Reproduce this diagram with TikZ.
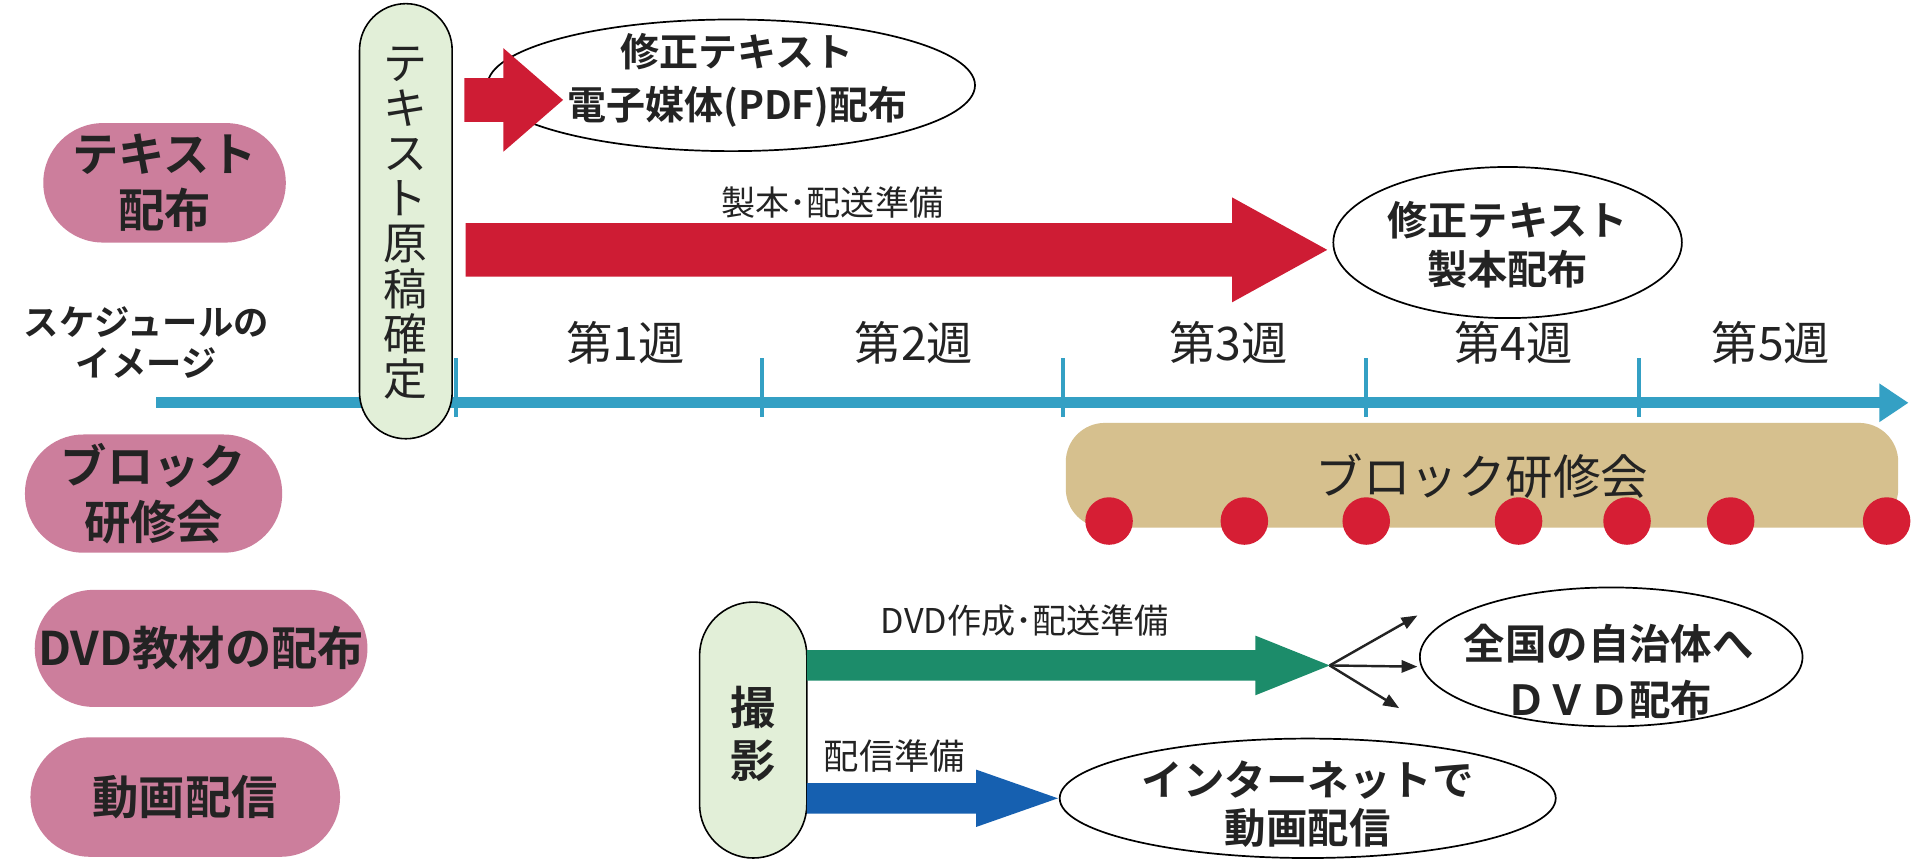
\documentclass[tikz,border=0pt]{standalone}
\usepackage{fontspec}
\setmainfont{Noto Sans CJK JP}[BoldFont={Noto Sans CJK JP Bold}]
\usetikzlibrary{calc,arrows.meta,shapes.geometric}
\definecolor{pinkc}{RGB}{204,126,156}
\definecolor{vgreen}{RGB}{226,239,216}
\definecolor{tanc}{RGB}{214,192,142}
\definecolor{tlc}{RGB}{52,160,196}
\definecolor{redc}{RGB}{206,28,52}
\definecolor{dotred}{RGB}{214,30,52}
\definecolor{greenc}{RGB}{28,140,106}
\definecolor{bluec}{RGB}{22,96,176}
\definecolor{ink}{RGB}{35,35,35}
\newcommand\fsz[2]{\fontsize{#1}{#2}\selectfont}
\newcommand\blockarr[6]{\fill[#1] let \p1=(#2),\p2=(#3) in
  (\x1,\y2+#4pt) -- (\x2-#6pt,\y2+#4pt) -- (\x2-#6pt,\y2+#5pt) -- (\x2,\y2)
  -- (\x2-#6pt,\y2-#5pt) -- (\x2-#6pt,\y2-#4pt) -- (\x1,\y2-#4pt) -- cycle;}
\begin{document}
\begin{tikzpicture}[x=1pt,y=-1pt,
  leftpill/.style={rectangle, fill=pinkc, inner sep=0pt, align=center, text=ink, font=\fsz{38}{46}\bfseries},
  vpill/.style={rectangle, draw=black, line width=1.3pt, fill=vgreen, inner sep=0pt},
  oval/.style={ellipse, draw=black, line width=1.4pt, fill=white, inner sep=0pt},
  ovaltext/.style={align=center, text=ink, inner sep=0pt},
  wk/.style={text=ink, font=\fsz{38}{40}, inner sep=0pt},
  lbl/.style={text=ink, font=\fsz{28}{30}, inner sep=0pt},
  dot/.style={circle, fill=dotred, minimum size=39pt, inner sep=0pt},
  thinarr/.style={line width=2pt, draw=ink, -{Triangle[length=13pt,width=10pt]}},
  tick/.style={tlc, line width=3pt}
]
\useasboundingbox[fill=white] (0,0) rectangle (1568,705);

% timeline
\coordinate (t0) at (128,330.5);
\coordinate (t1) at (1566,330.5);
\draw[tlc, line width=9pt, -{Triangle[length=24pt,width=30pt]}] (t0) -- (t1);
\foreach \k/\x in {a/374,b/625,c/872,d/1121,e/1345}{
  \coordinate (tk\k1) at (\x,294);
  \coordinate (tk\k2) at (\x,342);
  \draw[tick] (tk\k1) -- (tk\k2);
}
\node[wk] (w1) at (513,281) {第1週};
\node[wk] (w2) at (750,281) {第2週};
\node[wk] (w3) at (1008,281) {第3週};
\node[wk] (w4) at (1242,281) {第4週};
\node[wk] (w5) at (1453,281) {第5週};

% left labels
\node[leftpill, minimum width=199pt, minimum height=98pt, rounded corners=49pt] (p1) at (135,150) {テキスト\\配布};
\node[leftpill, minimum width=211pt, minimum height=97pt, rounded corners=48pt] (p2) at (126,405) {ブロック\\研修会};
\node[leftpill, minimum width=273pt, minimum height=96pt, rounded corners=48pt] (p3) at (165,532) {DVD教材の配布};
\node[leftpill, minimum width=254pt, minimum height=98pt, rounded corners=49pt] (p4) at (152,654) {動画配信};
\node[font=\fsz{29}{34}\bfseries, align=center, text=ink, inner sep=0pt] (sch) at (120,281) {スケジュールの\\イメージ};

% text manuscript fixed
\node[vpill, minimum width=76pt, minimum height=357pt, rounded corners=38pt] (vp) at (333,181.5) {};
\node[font=\fsz{36}{37}, align=center, text=ink, inner sep=0pt] (vpt) at (333,183) {テ\\キ\\ス\\ト\\原\\稿\\確\\定};

% PDF distribution
\node[oval, minimum width=400pt, minimum height=108pt] (e1) at (600,70) {};
\coordinate (r1s) at (381,82);
\coordinate (r1e) at (462,82);
\blockarr{redc}{r1s}{r1e}{18}{42.5}{49}
\node[ovaltext, font=\fsz{32}{43}\bfseries] (e1t) at (605,66) {修正テキスト\\電子媒体(PDF)配布};

% bound copy
\node[lbl] (l1) at (683,166) {製本･配送準備};
\coordinate (r2s) at (382,205);
\coordinate (r2e) at (1089,205);
\blockarr{redc}{r2s}{r2e}{22}{43}{78}
\node[oval, minimum width=286pt, minimum height=124pt] (e2) at (1237,199) {};
\node[ovaltext, font=\fsz{33}{40}\bfseries] (e2t) at (1237,201) {修正テキスト\\製本配布};

% block seminars
\node[fill=tanc, rounded corners=32pt, minimum width=683pt, minimum height=86pt, inner sep=0pt] (tan) at (1216,390) {};
\node[font=\fsz{39}{40}, text=ink, inner sep=0pt] (bk) at (1216,391) {ブロック研修会};
\foreach \k/\x in {1/910,2/1021,3/1121,4/1246,5/1335,6/1420,7/1548}{
  \node[dot] (d\k) at (\x,427.5) {};
}

% filming
\node[vpill, minimum width=88pt, minimum height=210pt, rounded corners=44pt] (sp) at (618,599) {};
\node[font=\fsz{37}{44}\bfseries, align=center, text=ink, inner sep=0pt] (spt) at (618,602) {撮\\影};

% DVD
\node[lbl] (l2) at (841,509) {DVD作成･配送準備};
\coordinate (gs) at (662,546);
\coordinate (gt) at (1091,546);
\blockarr{greenc}{gs}{gt}{12.5}{24.5}{61}
\node[oval, minimum width=314pt, minimum height=114pt] (e3) at (1322,539) {};
\node[ovaltext, font=\fsz{34}{46}\bfseries] (e3t) at (1320,551) {全国の自治体へ\\ＤＶＤ配布};
\coordinate (a1) at (1163,505);
\coordinate (a2) at (1163,547);
\coordinate (a3) at (1148,581);
\draw[thinarr] (gt) -- (a1);
\draw[thinarr] (gt) -- (a2);
\draw[thinarr] (gt) -- (a3);

% streaming
\node[lbl, font=\fsz{29}{30}] (l3) at (734,620) {配信準備};
\node[oval, minimum width=407pt, minimum height=98pt] (e4) at (1073,655) {};
\coordinate (bs) at (662,655);
\coordinate (bt) at (868,655);
\blockarr{bluec}{bs}{bt}{12.5}{23.5}{67}
\node[ovaltext, font=\fsz{34}{39}\bfseries] (e4t) at (1073,660) {インターネットで\\動画配信};
\end{tikzpicture}
\end{document}
